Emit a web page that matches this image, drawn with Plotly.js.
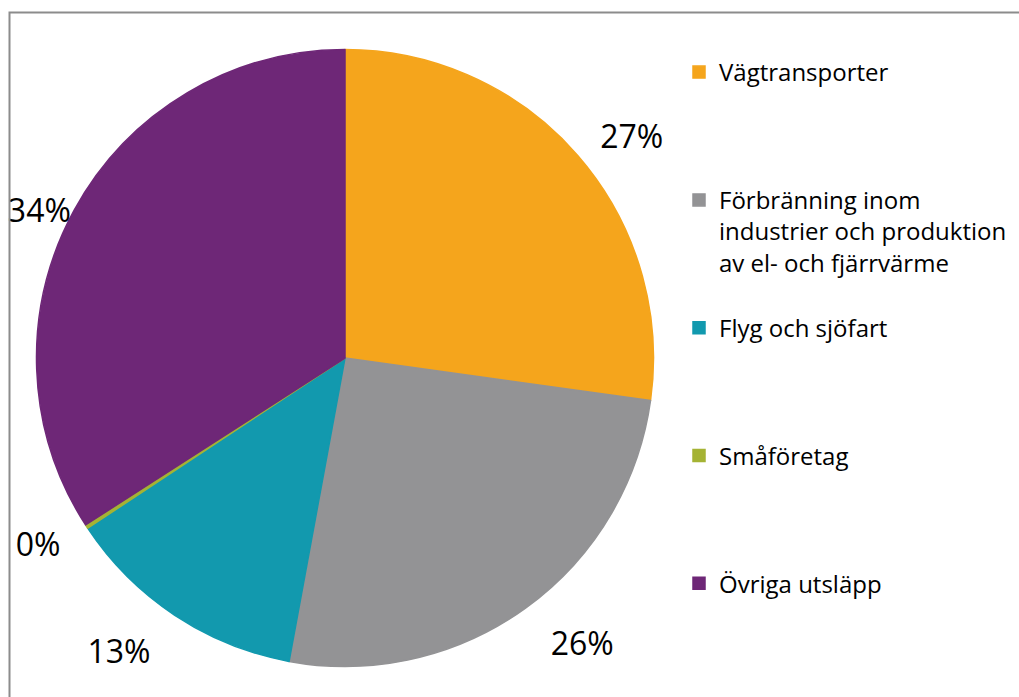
<!DOCTYPE html>
<html>
<head>
<meta charset="utf-8">
<script src="https://cdn.plot.ly/plotly-3.0.1.min.js"></script>
<style>
  html, body { margin: 0; padding: 0; background: #ffffff; }
  #chart { width: 1019px; height: 697px; }
</style>
</head>
<body>
<div id="chart"></div>
<script>
// ---- data ----
const categories = [
  "Vägtransporter",
  "Förbränning inom<br>industrier och produktion<br>av el- och fjärrvärme",
  "Flyg och sjöfart",
  "Småföretag",
  "Övriga utsläpp"
];
const shares = [27.2, 25.7, 12.8, 0.2, 34.1];
const colors = ["#F5A51C", "#939395", "#1299AE", "#A5B334", "#6E2777"];

// ---- styling / layout helpers ----
const labelPull = [0.08, 0.11, 0.11, 0.09, 0];   // label distance tweaks (style)
const slotLines = 4;
const legendLabels = categories.map((c, i) => {
  const n = c.split("<br>").length;
  let s = c;
  if (i < categories.length - 1) {
    for (let k = n; k < slotLines; k++) s += "<br> ";
  }
  return s;
});

const W = 1019, H = 697;
function dom(cx, cy, r) {
  return { x: [(cx - r) / W, (cx + r) / W], y: [(H - cy - r) / H, (H - cy + r) / H] };
}

const fontFam = "'Open Sans', sans-serif";
const maxPull = Math.max.apply(null, labelPull);

const mainPie = {
  type: "pie",
  labels: legendLabels,
  values: shares,
  sort: false,
  direction: "clockwise",
  rotation: 0,
  marker: { colors: colors, line: { width: 1.5, color: colors } },
  textinfo: "none",
  hoverinfo: "skip",
  domain: dom(345, 358, 308.5),
  showlegend: true
};

const labelPie = {
  type: "pie",
  labels: legendLabels,
  values: shares,
  sort: false,
  direction: "clockwise",
  rotation: 0,
  pull: labelPull,
  marker: { colors: shares.map(() => "rgba(0,0,0,0)"), line: { width: 0 } },
  texttemplate: "%{percent:.0%}",
  textposition: "outside",
  outsidetextfont: { family: fontFam, size: 32, color: "#000000" },
  hoverinfo: "skip",
  domain: dom(345, 358, 300 * (1 + maxPull)),
  showlegend: false
};

const layout = {
  width: W,
  height: H,
  margin: { l: 0, r: 0, t: 0, b: 0 },
  paper_bgcolor: "#ffffff",
  font: { family: fontFam, color: "#000000" },
  showlegend: true,
  legend: {
    x: 679 / W,
    xanchor: "left",
    y: 1 - 50 / H,
    yanchor: "top",
    valign: "top",
    font: { family: fontFam, size: 24, color: "#000000" },
    bgcolor: "rgba(0,0,0,0)",
    itemclick: false,
    itemdoubleclick: false
  },
  shapes: [
    {
      type: "rect", xref: "paper", yref: "paper",
      x0: 9.5 / W, x1: 1.2, y0: -0.2, y1: 1 - 12.5 / H,
      line: { color: "#8C8C8C", width: 2 },
      fillcolor: "rgba(0,0,0,0)",
      layer: "above"
    }
  ]
};

Plotly.newPlot("chart", [mainPie, labelPie], layout, { staticPlot: true, displayModeBar: false });
</script>
</body>
</html>
